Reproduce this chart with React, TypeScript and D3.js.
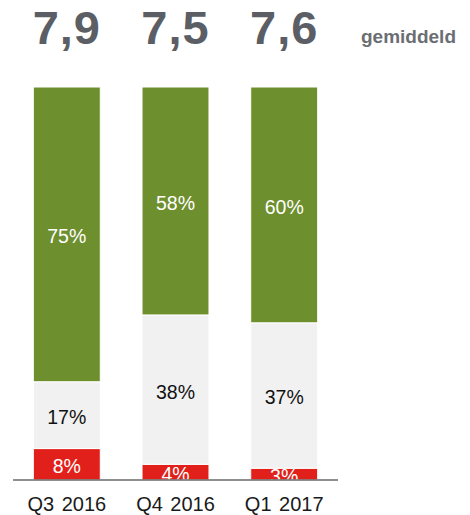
import React from 'react';
import * as d3 from 'd3';

const quarters = ['Q3 2016', 'Q4 2016', 'Q1 2017'];
const averages = ['7,9', '7,5', '7,6'];
const negative = [8, 4, 3];
const neutral = [17, 38, 37];
const positive = [75, 58, 60];

const segments = [
  { key: 'neg', values: negative, fill: '#e2201b', text: '#ffffff' },
  { key: 'neu', values: neutral, fill: '#f1f1f1', text: '#111111' },
  { key: 'pos', values: positive, fill: '#6e8f2e', text: '#ffffff' },
];

const W = 470;
const H = 515;

export default function App() {
  const x = d3.scaleBand<string>()
    .domain(quarters)
    .range([13, 338])
    .paddingInner(0.384)
    .paddingOuter(0.187);

  const y = d3.scaleLinear().domain([0, 100]).range([480, 87]);

  const rows = quarters.map((q, i) => {
    let acc = 0;
    return segments.map((s) => {
      const v = s.values[i];
      const lo = acc;
      acc += v;
      return { q, v, lo, hi: acc, seg: s };
    });
  });

  const fs = 19.5;

  return (
    <svg width={W} height={H} style={{ position: 'absolute', left: 0, top: 0 }}
      fontFamily="'Liberation Sans', Arial, sans-serif">
      <defs>
        <clipPath id="plotclip">
          <rect x={0} y={0} width={W} height={y(0)} />
        </clipPath>
      </defs>

      {averages.map((a, i) => (
        <text key={a + i} x={x(quarters[i])! + x.bandwidth() / 2} y={43.5}
          textAnchor="middle" fontSize={47} fontWeight="bold" letterSpacing={1}
          fill="#5b5f65">{a}</text>
      ))}
      <text x={361} y={43} fontSize={19} fontWeight="bold" fill="#6b6e73">gemiddeld</text>

      <g clipPath="url(#plotclip)">
        {rows.flat().map((d) => (
          <rect key={d.q + d.seg.key} x={x(d.q)} y={y(d.hi)}
            width={x.bandwidth()} height={y(d.lo) - y(d.hi)}
            fill={d.seg.fill} stroke="#ffffff" strokeWidth={1} />
        ))}
        {rows.flat().map((d) => (
          <text key={'t' + d.q + d.seg.key}
            x={x(d.q)! + x.bandwidth() / 2}
            y={(y(d.lo) + y(d.hi)) / 2 + fs * 0.358 + 2}
            textAnchor="middle" fontSize={fs} fill={d.seg.text}>{d.v}%</text>
        ))}
      </g>

      <line x1={x.range()[0]} x2={x.range()[1]} y1={y(0)} y2={y(0)}
        stroke="#6a6a6a" strokeWidth={1.5} />

      {quarters.map((q) => (
        <text key={q} x={x(q)! + x.bandwidth() / 2} y={511} textAnchor="middle"
          fontSize={20} fill="#1a1a1a" wordSpacing={2}>{q}</text>
      ))}
    </svg>
  );
}
